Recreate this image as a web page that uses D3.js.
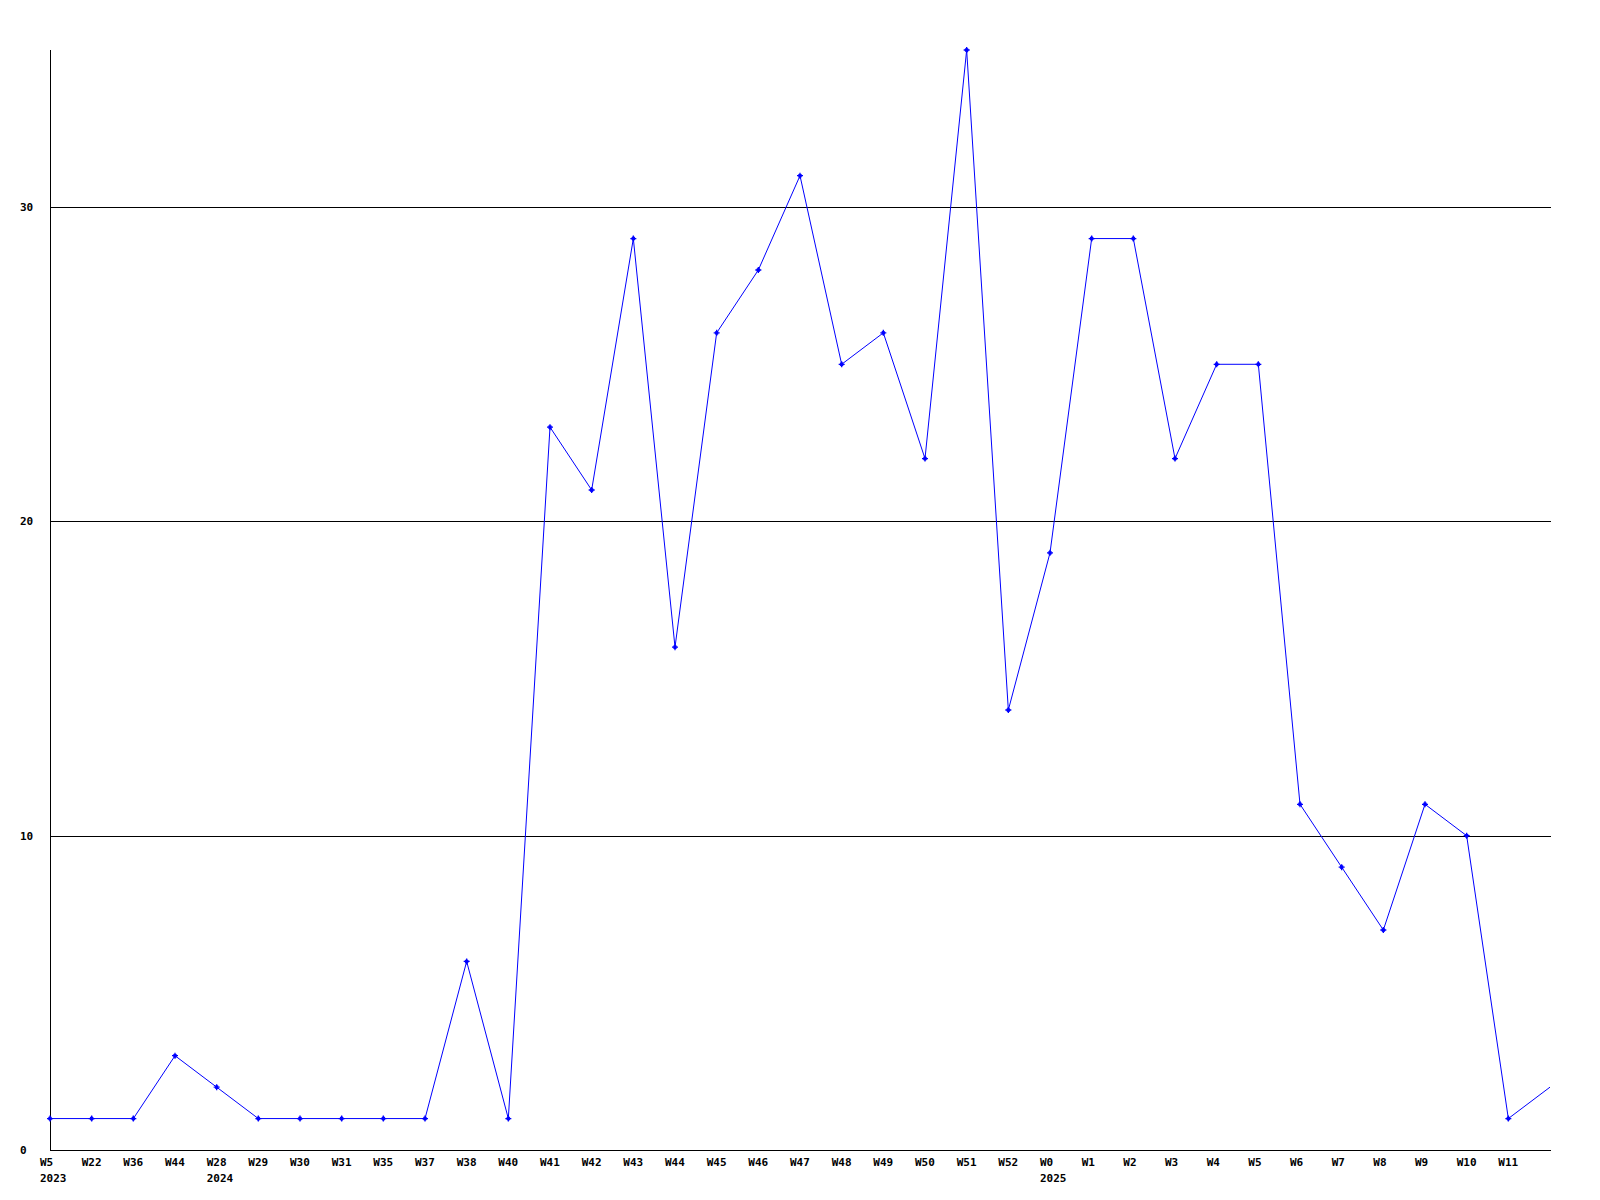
<!DOCTYPE html>
<html>
<head>
<meta charset="utf-8">
<script src="https://cdn.jsdelivr.net/npm/d3@7"></script>
<style>
  html, body { margin: 0; padding: 0; background: #fff; }
  svg { display: block; }
  text { font-family: "DejaVu Sans Mono", "Liberation Mono", monospace; font-weight: bold; font-size: 11px; fill: #000; }
</style>
</head>
<body>
<svg id="chart" width="1600" height="1200"></svg>
<script>
// Data
const weekLabels = ["W5","W22","W36","W44","W28","W29","W30","W31","W35","W37","W38","W40",
  "W41","W42","W43","W44","W45","W46","W47","W48","W49","W50","W51","W52",
  "W0","W1","W2","W3","W4","W5","W6","W7","W8","W9","W10","W11",""];
const yearLabels = ["2023","","","","2024","","","","","","","",
  "","","","","","","","","","","","",
  "2025","","","","","","","","","","","",""];
const values = [1,1,1,3,2,1,1,1,1,1,6,1,
  23,21,29,16,26,28,31,25,26,22,35,14,
  19,29,29,22,25,25,11,9,7,11,10,1,2];
const yTicks = [0,10,20,30];

const svg = d3.select("#chart");
const mLeft = 50, mRight = 1550, mTop = 50, mBottom = 1150;

const x = d3.scalePoint().domain(d3.range(values.length)).range([mLeft, mRight]);
const y = d3.scaleLinear().domain([0, 35]).range([mBottom, mTop]);

// Gridlines
svg.append("g").selectAll("line").data(yTicks.filter(d => d > 0)).join("line")
  .attr("x1", mLeft).attr("x2", mRight + 1)
  .attr("y1", d => Math.round(y(d)) + 0.5).attr("y2", d => Math.round(y(d)) + 0.5)
  .attr("stroke", "#000").attr("stroke-width", 1).attr("shape-rendering", "crispEdges");

// Y tick labels
svg.append("g").selectAll("text").data(yTicks).join("text")
  .attr("x", 20).attr("y", d => Math.round(y(d)) + 4)
  .text(d => d);

// Axes lines
svg.append("line").attr("x1", mLeft + 0.5).attr("x2", mLeft + 0.5).attr("y1", mTop).attr("y2", mBottom + 1)
  .attr("stroke", "#000").attr("shape-rendering", "crispEdges");
svg.append("line").attr("x1", mLeft).attr("x2", mRight + 1).attr("y1", mBottom + 0.5).attr("y2", mBottom + 0.5)
  .attr("stroke", "#000").attr("shape-rendering", "crispEdges");

// X labels
const xl = svg.append("g");
xl.selectAll("text.wk").data(weekLabels).join("text").attr("class", "wk")
  .attr("x", (d, i) => x(i) - 10).attr("y", 1166).text(d => d);
xl.selectAll("text.yr").data(yearLabels).join("text").attr("class", "yr")
  .attr("x", (d, i) => x(i) - 10).attr("y", 1182).text(d => d);

// Line
const line = d3.line().x((d, i) => x(i)).y(d => y(d));
svg.append("path").datum(values).attr("d", line)
  .attr("fill", "none").attr("stroke", "#0000ff").attr("stroke-width", 1);

// Markers (except last)
svg.append("g").selectAll("path").data(values.slice(0, values.length - 1)).join("path")
  .attr("transform", (d, i) => `translate(${x(i)},${y(d)})`)
  .attr("d", "M-3,0H3M0,-3V3M-1.5,-1.5L1.5,1.5M-1.5,1.5L1.5,-1.5")
  .attr("stroke", "#0000ff").attr("stroke-width", 1.3).attr("fill", "none");
</script>
</body>
</html>
